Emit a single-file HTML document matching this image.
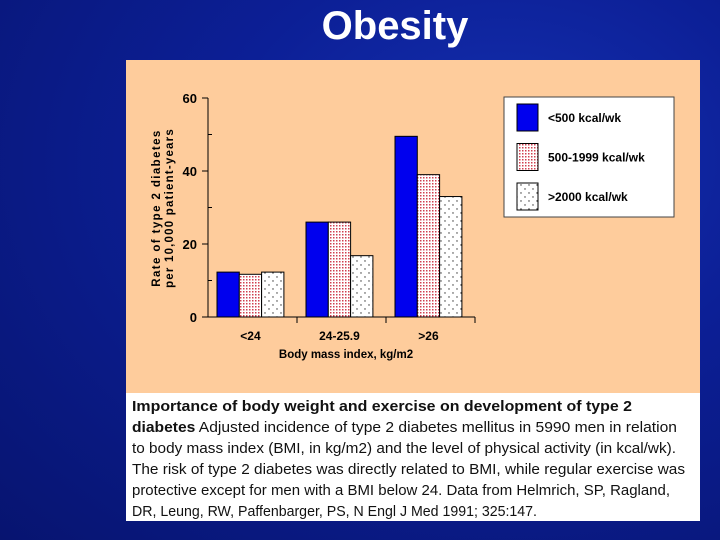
<!DOCTYPE html>
<html><head><meta charset="utf-8"><style>
body{margin:0;width:720px;height:540px;overflow:hidden;background:#0b1d8c;font-family:"Liberation Sans",sans-serif}
#bg{position:absolute;left:0;top:0;width:720px;height:540px;background:radial-gradient(ellipse at 70% 30%,#1430b0 0%,#0c1f96 40%,#071470 100%)}
#title{position:absolute;left:0;width:790px;top:4px;text-align:center;color:#fff;font-weight:bold;font-size:40px}
#panel{position:absolute;left:126px;top:60px;width:574px;height:334px;background:#fecc9c}
#capbox{position:absolute;left:126px;top:393px;width:574px;height:128px;background:#fff}
svg{position:absolute;left:0;top:0}
</style></head><body>
<div id="bg"></div>
<div id="title">Obesity</div>
<div id="panel"></div>
<div id="capbox"></div>
<svg width="720" height="540" style="font-size:15px;fill:#111">
<text x="132" y="411" textLength="500" lengthAdjust="spacingAndGlyphs" font-weight="bold">Importance of body weight and exercise on development of type 2</text>
<text x="132" y="432" textLength="545" lengthAdjust="spacingAndGlyphs"><tspan font-weight="bold">diabetes</tspan>  Adjusted incidence of type 2 diabetes mellitus in 5990 men in relation</text>
<text x="132" y="453" textLength="544" lengthAdjust="spacingAndGlyphs">to body mass index (BMI, in kg/m2) and the level of physical activity (in kcal/wk).</text>
<text x="132" y="474" textLength="553" lengthAdjust="spacingAndGlyphs">The risk of type 2 diabetes was directly related to BMI, while regular exercise was</text>
<text x="132" y="495" textLength="538" lengthAdjust="spacingAndGlyphs">protective except for men with a BMI below 24. Data from Helmrich, SP, Ragland,</text>
<text x="132" y="516" textLength="405" lengthAdjust="spacingAndGlyphs">DR, Leung, RW, Paffenbarger, PS, N Engl J Med 1991; 325:147.</text>
</svg>
<svg id="chart" width="720" height="540">
<defs>
<pattern id="pgrid" width="3" height="3" patternUnits="userSpaceOnUse"><rect width="3" height="3" fill="#fff"/><rect width="1.5" height="1.5" fill="#d04050"/></pattern>
<pattern id="pdiag" width="8" height="8" patternUnits="userSpaceOnUse"><rect width="8" height="8" fill="#fff"/><circle cx="1" cy="1" r="0.7" fill="#333"/><circle cx="5" cy="5" r="0.7" fill="#333"/></pattern>
</defs>
</svg>
<script>
const categories=["<24","24-25.9",">26"];
const lowActivity=[12.3,26,49.5];
const midActivity=[11.7,26,39];
const highActivity=[12.3,16.8,33];
const yTicks=[0,20,40,60];
const seriesNames=["<500 kcal/wk","500-1999 kcal/wk",">2000 kcal/wk"];
const fills=["#0000ee","url(#pgrid)","url(#pdiag)"];
const NS="http://www.w3.org/2000/svg";
const svg=document.getElementById('chart');
function mk(t,a,txt){const e=document.createElementNS(NS,t);for(const k in a)e.setAttribute(k,a[k]);if(txt!=null)e.textContent=txt;svg.appendChild(e);return e;}
const X0=208,X1=475,Y0=317,Y60=98;
function y(v){return Y0-(v/60)*(Y0-Y60);}
const groupW=(X1-X0)/3;
function xGroup(i){return X0+groupW*i;}
let e=mk('line',{x1:X0,y1:Y60,x2:X0,y2:Y0,stroke:'#000','stroke-width':1});

e=mk('line',{x1:X0,y1:Y0,x2:X1,y2:Y0,stroke:'#000','stroke-width':1});

for(let v=0;v<=60;v+=10){e=mk('line',{x1:v%20?X0:X0-6,y1:y(v),x2:v%20?X0+4:X0,y2:y(v),stroke:'#000'});
}
yTicks.forEach(v=>{e=mk('text',{x:X0-11,y:y(v)+5,'text-anchor':'end','font-size':13,'font-weight':'bold'},v);
});
for(let i=1;i<=3;i++){e=mk('line',{x1:xGroup(i),y1:Y0,x2:xGroup(i),y2:Y0+6,stroke:'#000'});
}
const series=[lowActivity,midActivity,highActivity];
categories.forEach((c,i)=>{
 const bw=22.3,start=xGroup(i)+9;
 series.forEach((s,j)=>{
  e=mk('rect',{x:start+j*bw,y:y(s[i]),width:bw,height:Y0-y(s[i]),fill:fills[j],stroke:'#000','stroke-width':1});
  
 });
 e=mk('text',{x:start+bw*1.5,y:Y0+23,'text-anchor':'middle','font-size':12,'font-weight':'bold'},c);
 
});
e=mk('text',{x:346,y:358,'text-anchor':'middle','font-size':11.5,'font-weight':'bold'},'Body mass index, kg/m2');

e=mk('text',{transform:'translate(160,208) rotate(-90)','text-anchor':'middle','font-size':11.5,'font-weight':'bold','letter-spacing':'1.4'},'Rate of type 2 diabetes');

e=mk('text',{transform:'translate(173,208) rotate(-90)','text-anchor':'middle','font-size':11.5,'font-weight':'bold','letter-spacing':'1.2'},'per 10,000 patient-years');

e=mk('rect',{x:504,y:97,width:170,height:120,fill:'#fff',stroke:'#444'});

seriesNames.forEach((n,j)=>{
 e=mk('rect',{x:517,y:104+j*39.5,width:21,height:27,fill:fills[j],stroke:'#000'});
 
 e=mk('text',{x:548,y:122+j*39.5,'font-size':12,'font-weight':'bold'},n);
 
});
</script>
</body></html>
